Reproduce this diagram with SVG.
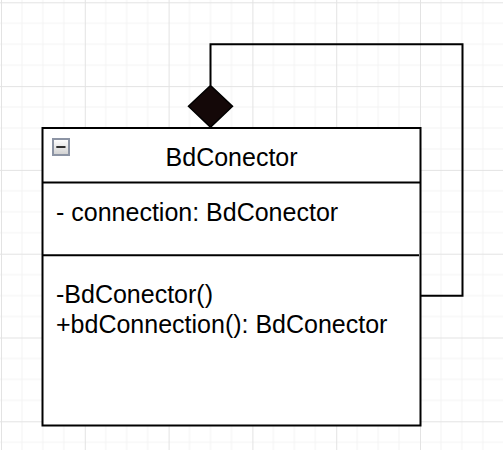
<svg xmlns="http://www.w3.org/2000/svg" width="503" height="450" viewBox="0 0 503 450">
  <style>
    .t { font-family: "Liberation Sans", Arial, sans-serif; font-size: 25px; fill: #000; }
    .ln { fill: none; stroke: #000; stroke-width: 2; }
  </style>
  <defs>
    <pattern id="grid" x="1" y="2.3" width="83.8" height="83.8" patternUnits="userSpaceOnUse">
      <path d="M20.95 0V83.8M41.9 0V83.8M62.85 0V83.8M0 20.95H83.8M0 41.9H83.8M0 62.85H83.8" stroke="#f3f3f3" stroke-width="1" fill="none"/>
      <path d="M0.5 0V83.8M0 0.5H83.8" stroke="#e3e3e3" stroke-width="1" fill="none"/>
    </pattern>
    <linearGradient id="ig" x1="0" y1="0" x2="0" y2="1">
      <stop offset="0" stop-color="#ffffff"/>
      <stop offset="1" stop-color="#d0d0d0"/>
    </linearGradient>
  </defs>
  <rect width="503" height="450" fill="#ffffff"/>
  <rect width="503" height="450" fill="url(#grid)"/>

  <g id="connectors">
    <polyline class="ln" points="420.5,295.8 462.5,295.8 462.5,44.2 210.5,44.2 210.5,85.5"/>
    <polygon points="210.5,85.5 232.5,106.3 210.5,127.3 188.5,106.3" fill="#140808" stroke="#000" stroke-width="1.5"/>
  </g>

  <g id="BdConector">
    <rect x="42.5" y="128" width="378" height="297.5" fill="#ffffff" stroke="#000" stroke-width="2"/>
    <line x1="42.5" y1="182.5" x2="420.5" y2="182.5" stroke="#000" stroke-width="2"/>
    <line x1="42.5" y1="255.2" x2="419" y2="255.2" stroke="#000" stroke-width="2"/>
    <rect x="53" y="139" width="16" height="16" fill="url(#ig)" stroke="#8c94a4" stroke-width="2"/>
    <line x1="56.3" y1="147" x2="65.5" y2="147" stroke="#000" stroke-width="1.6"/>
    <text class="t" x="231.6" y="166" text-anchor="middle">BdConector</text>
    <text class="t" x="56" y="221">- connection: BdConector</text>
    <text class="t" x="56" y="302.7">-BdConector()</text>
    <text class="t" x="56" y="333.3">+bdConnection(): BdConector</text>
  </g>
</svg>
